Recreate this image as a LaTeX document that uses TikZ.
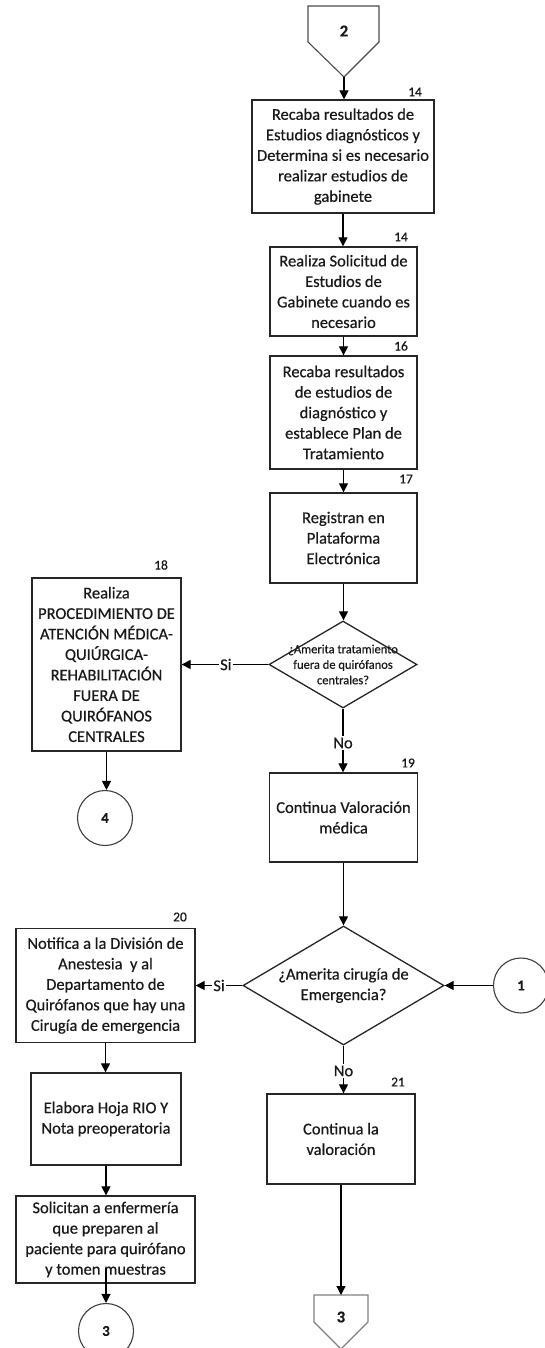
\documentclass[tikz,border=0pt]{standalone}
\usepackage{fontspec}
\setmainfont{Carlito}[RawFeature={embolden=0.5}]
\usetikzlibrary{arrows.meta,shapes.geometric}
\begin{document}
\begin{tikzpicture}[x=1pt,y=-1pt,
  every node/.style={font=\fontsize{16.5}{20.5}\selectfont, text=black!90},
  box/.style={draw=black!85, line width=1.3pt, inner sep=0pt, align=center},
  dec/.style={draw=black!85, line width=1.3pt, diamond, inner sep=0pt},
  conn/.style={draw=black!75, line width=1.1pt, circle, inner sep=0pt, minimum size=55pt, font=\fontsize{15}{18}\selectfont\bfseries},
  arr/.style={draw=black, line width=1.2pt, -{Triangle[length=9pt,width=9pt]}},
  num/.style={inner sep=0pt, font=\fontsize{13.5}{16}\selectfont},
  lbl/.style={fill=white, inner sep=1.5pt},
  small/.style={align=center, inner sep=0pt, font=\fontsize{12.5}{15.5}\selectfont},
]
\useasboundingbox (0,0) rectangle (544,1348);
\fill[white] (0,0) rectangle (544,1348);

% off-page connector 2
\draw[draw=black!70, line width=1.1pt] (308,6) -- (379,6) -- (379,42) -- (344,77) -- (308,42) -- cycle;
\coordinate (p2tip) at (344,77);
\node (p2) at (344,31) {\textbf{2}};

% boxes
\node[box, minimum width=182pt, minimum height=113pt] (a) at (343,156.5)
  {Recaba resultados de\\Estudios diagnósticos y\\Determina si es necesario\\realizar estudios de\\gabinete};
\node[num] (na) at (415,92) {14};

\node[box, minimum width=147pt, minimum height=89pt] (b) at (343.5,291.5)
  {Realiza Solicitud de\\Estudios de\\Gabinete cuando es\\necesario};
\node[num] (nb) at (401,237) {14};

\node[box, minimum width=147pt, minimum height=113pt] (c) at (343.5,412.5)
  {Recaba resultados\\de estudios de\\diagnóstico y\\establece Plan de\\Tratamiento};
\node[num] (nc) at (401,346) {16};

\node[box, minimum width=147pt, minimum height=90pt] (d) at (343.5,538)
  {Registran en\\Plataforma\\Electrónica};
\node[num] (nd) at (406,479) {17};

\node[dec, minimum width=148pt, minimum height=87pt] (d1) at (343,664.5) {};
\node[small] (d1t) at (d1) {¿Amerita tratamiento\\fuera de quirófanos\\centrales?};

\node[box, minimum width=149pt, minimum height=173pt] (e) at (106.5,664.5)
  {Realiza\\PROCEDIMIENTO DE\\ATENCIÓN MÉDICA-\\QUIÚRGICA-\\REHABILITACIÓN\\FUERA DE\\QUIRÓFANOS\\CENTRALES};
\node[num] (ne) at (161,565) {18};

\node[conn] (c4) at (105,818) {4};

\node[box, minimum width=148pt, minimum height=89pt] (f) at (343.5,817.5)
  {Continua Valoración\\médica};
\node[num] (nf) at (408,763) {19};

\node[dec, minimum width=201pt, minimum height=119pt] (d2) at (343.5,985.5) {};
\node[align=center, inner sep=0pt] (d2t) at (d2) {¿Amerita cirugía de\\Emergencia?};

\node[conn] (c1) at (521,985.5) {1};

\node[box, minimum width=179pt, minimum height=114pt] (g) at (105.5,985.5)
  {Notifica a la División de\\Anestesia \ y al\\Departamento de\\Quirófanos que hay una\\Cirugía de emergencia};
\node[num] (ng) at (180,917) {20};

\node[box, minimum width=150pt, minimum height=92pt] (h) at (106,1119)
  {Elabora Hoja RIO Y\\Nota preoperatoria};

\node[box, minimum width=179pt, minimum height=87pt] (i) at (105.5,1239.5)
  {Solicitan a enfermería\\que preparen al\\paciente para quirófano\\y tomen muestras};
\coordinate (istart) at (106,1268);

\node[conn] (c3) at (106,1331) {3};

\node[box, minimum width=148pt, minimum height=90pt] (j) at (341,1139)
  {Continua la\\valoración};
\node[num] (nj) at (398,1082) {21};

% off-page connector 3
\draw[draw=gray, line width=1.1pt] (314,1295) -- (368,1295) -- (368,1322) -- (341,1349) -- (314,1322) -- cycle;
\coordinate (p3top) at (341,1295);
\node (p3) at (341,1317) {\textbf{3}};

% connectors
\draw[arr] (p2tip) -- (a.north -| p2tip);
\draw[arr] (a.south) -- (a.south |- b.north);
\draw[arr] (b.south) -- (b.south |- c.north);
\draw[arr] (c.south) -- (c.south |- d.north);
\draw[arr] (d.south) -- (d.south |- d1.north);
\draw[arr] (d1.west) -- node[lbl, pos=0.49] {Si} (e.east);
\draw[arr] (e.south) -- (e.south |- c4.north);
\draw[arr] (d1.south) -- node[lbl, pos=0.54] {No} (d1.south |- f.north);
\draw[arr] (f.south) -- (f.south |- d2.north);
\draw[arr] (d2.west) -- node[lbl, pos=0.5] {Si} (d2.west -| g.east);
\draw[arr] (c1.west) -- (d2.east);
\draw[arr] (d2.south) -- node[lbl, pos=0.53] {No} (d2.south |- j.north);
\draw[arr] (g.south) -- (g.south |- h.north);
\draw[arr] (h.south) -- (h.south |- i.north);
\draw[arr] (istart) -- (c3.north);
\draw[arr] (j.south) -- (p3top);
\end{tikzpicture}
\end{document}
